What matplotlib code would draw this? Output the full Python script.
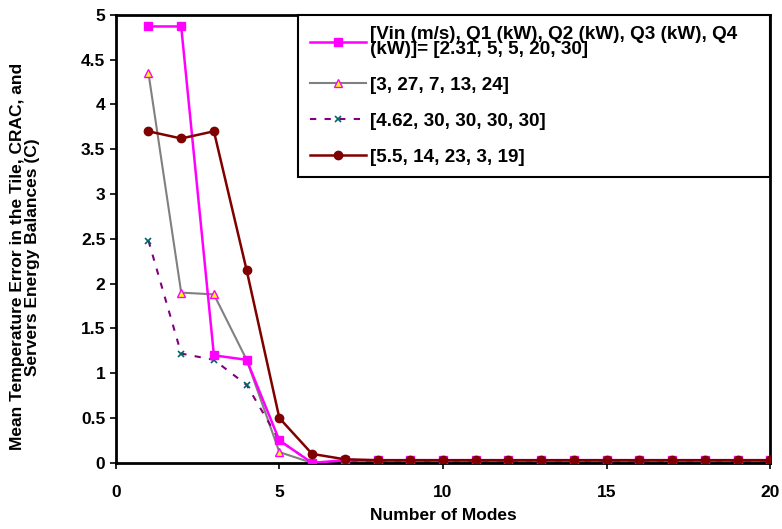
import numpy as np
import matplotlib.pyplot as plt

plt.rcParams['font.family'] = ['Liberation Sans', 'DejaVu Sans']
plt.rcParams['font.weight'] = 'bold'

modes = np.arange(1, 21)

# mean temperature error (C) for each set of inlet conditions
err_a = [4.87, 4.87, 1.20, 1.15, 0.25, 0.0, 0.03, 0.03, 0.03, 0.03,
         0.03, 0.03, 0.03, 0.03, 0.03, 0.03, 0.03, 0.03, 0.03, 0.03]
err_b = [4.35, 1.90, 1.88, 1.15, 0.12, 0.0, 0.01, 0.01, 0.01, 0.01,
         0.01, 0.01, 0.01, 0.01, 0.01, 0.01, 0.01, 0.01, 0.01, 0.01]
err_c = [2.48, 1.22, 1.15, 0.87, 0.25, 0.0, 0.01, 0.01, 0.01, 0.01,
         0.01, 0.01, 0.01, 0.01, 0.01, 0.01, 0.01, 0.01, 0.01, 0.01]
err_d = [3.70, 3.62, 3.70, 2.15, 0.50, 0.10, 0.04, 0.03, 0.03, 0.03,
         0.03, 0.03, 0.03, 0.03, 0.03, 0.03, 0.03, 0.03, 0.03, 0.03]

labels = ['[Vin (m/s), Q1 (kW), Q2 (kW), Q3 (kW), Q4\n(kW)]= [2.31, 5, 5, 20, 30]',
          '[3, 27, 7, 13, 24]',
          '[4.62, 30, 30, 30, 30]',
          '[5.5, 14, 23, 3, 19]']

fig = plt.figure(figsize=(7.82, 5.29), dpi=100)
ax = fig.add_axes([0.148, 0.125, 0.837, 0.847])

ax.plot(modes, err_a, color='#ff00ff', lw=1.8, marker='s', ms=6,
        mfc='#ff00ff', mec='#ff00ff', label=labels[0], zorder=3)
ax.plot(modes, err_b, color='#808080', lw=1.5, marker='^', ms=6,
        mfc='#ffff00', mec='#ff00ff', mew=1.0, label=labels[1], zorder=2)
ax.plot(modes, err_c, color='#800080', lw=1.5, ls=(0, (3, 4)), marker='x',
        ms=5, mec='#006666', mew=1.2, label=labels[2], zorder=2)
ax.plot(modes, err_d, color='#800000', lw=1.8, marker='o', ms=6,
        mfc='#800000', mec='#800000', label=labels[3], zorder=4)

ax.set_xlim(0, 20)
ax.set_ylim(0, 5)
ax.set_xticks([0, 5, 10, 15, 20])
ax.set_yticks(np.arange(0, 5.01, 0.5))
ax.set_yticklabels(['0', '0.5', '1', '1.5', '2', '2.5', '3', '3.5', '4', '4.5', '5'])
ax.tick_params(labelsize=12.5, width=1.2, length=4, direction='out')
ax.tick_params(axis='x', pad=12)
for s in ax.spines.values():
    s.set_linewidth(2)

ax.set_xlabel('Number of Modes', fontsize=12.5, fontweight='bold', labelpad=6)
ax.set_ylabel('Mean Temperature Error in the Tile, CRAC, and\nServers Energy Balances (C)',
              fontsize=12.5, fontweight='bold', linespacing=1.0)
ax.yaxis.set_label_coords(-0.115, 0.46)

leg = ax.legend(loc='upper left', bbox_to_anchor=(0.279, 0.632, 0.721, 0.368),
                mode='expand', borderaxespad=0, fancybox=False, framealpha=1,
                edgecolor='black', fontsize=13.6, labelspacing=1.0,
                handlelength=3.0, handletextpad=0.2, borderpad=0.6)
leg.get_frame().set_linewidth(1.5)
for t in leg.get_texts():
    t.set_fontweight('bold')
    t.set_linespacing(0.8)

fig.savefig('out.png', dpi=100)
